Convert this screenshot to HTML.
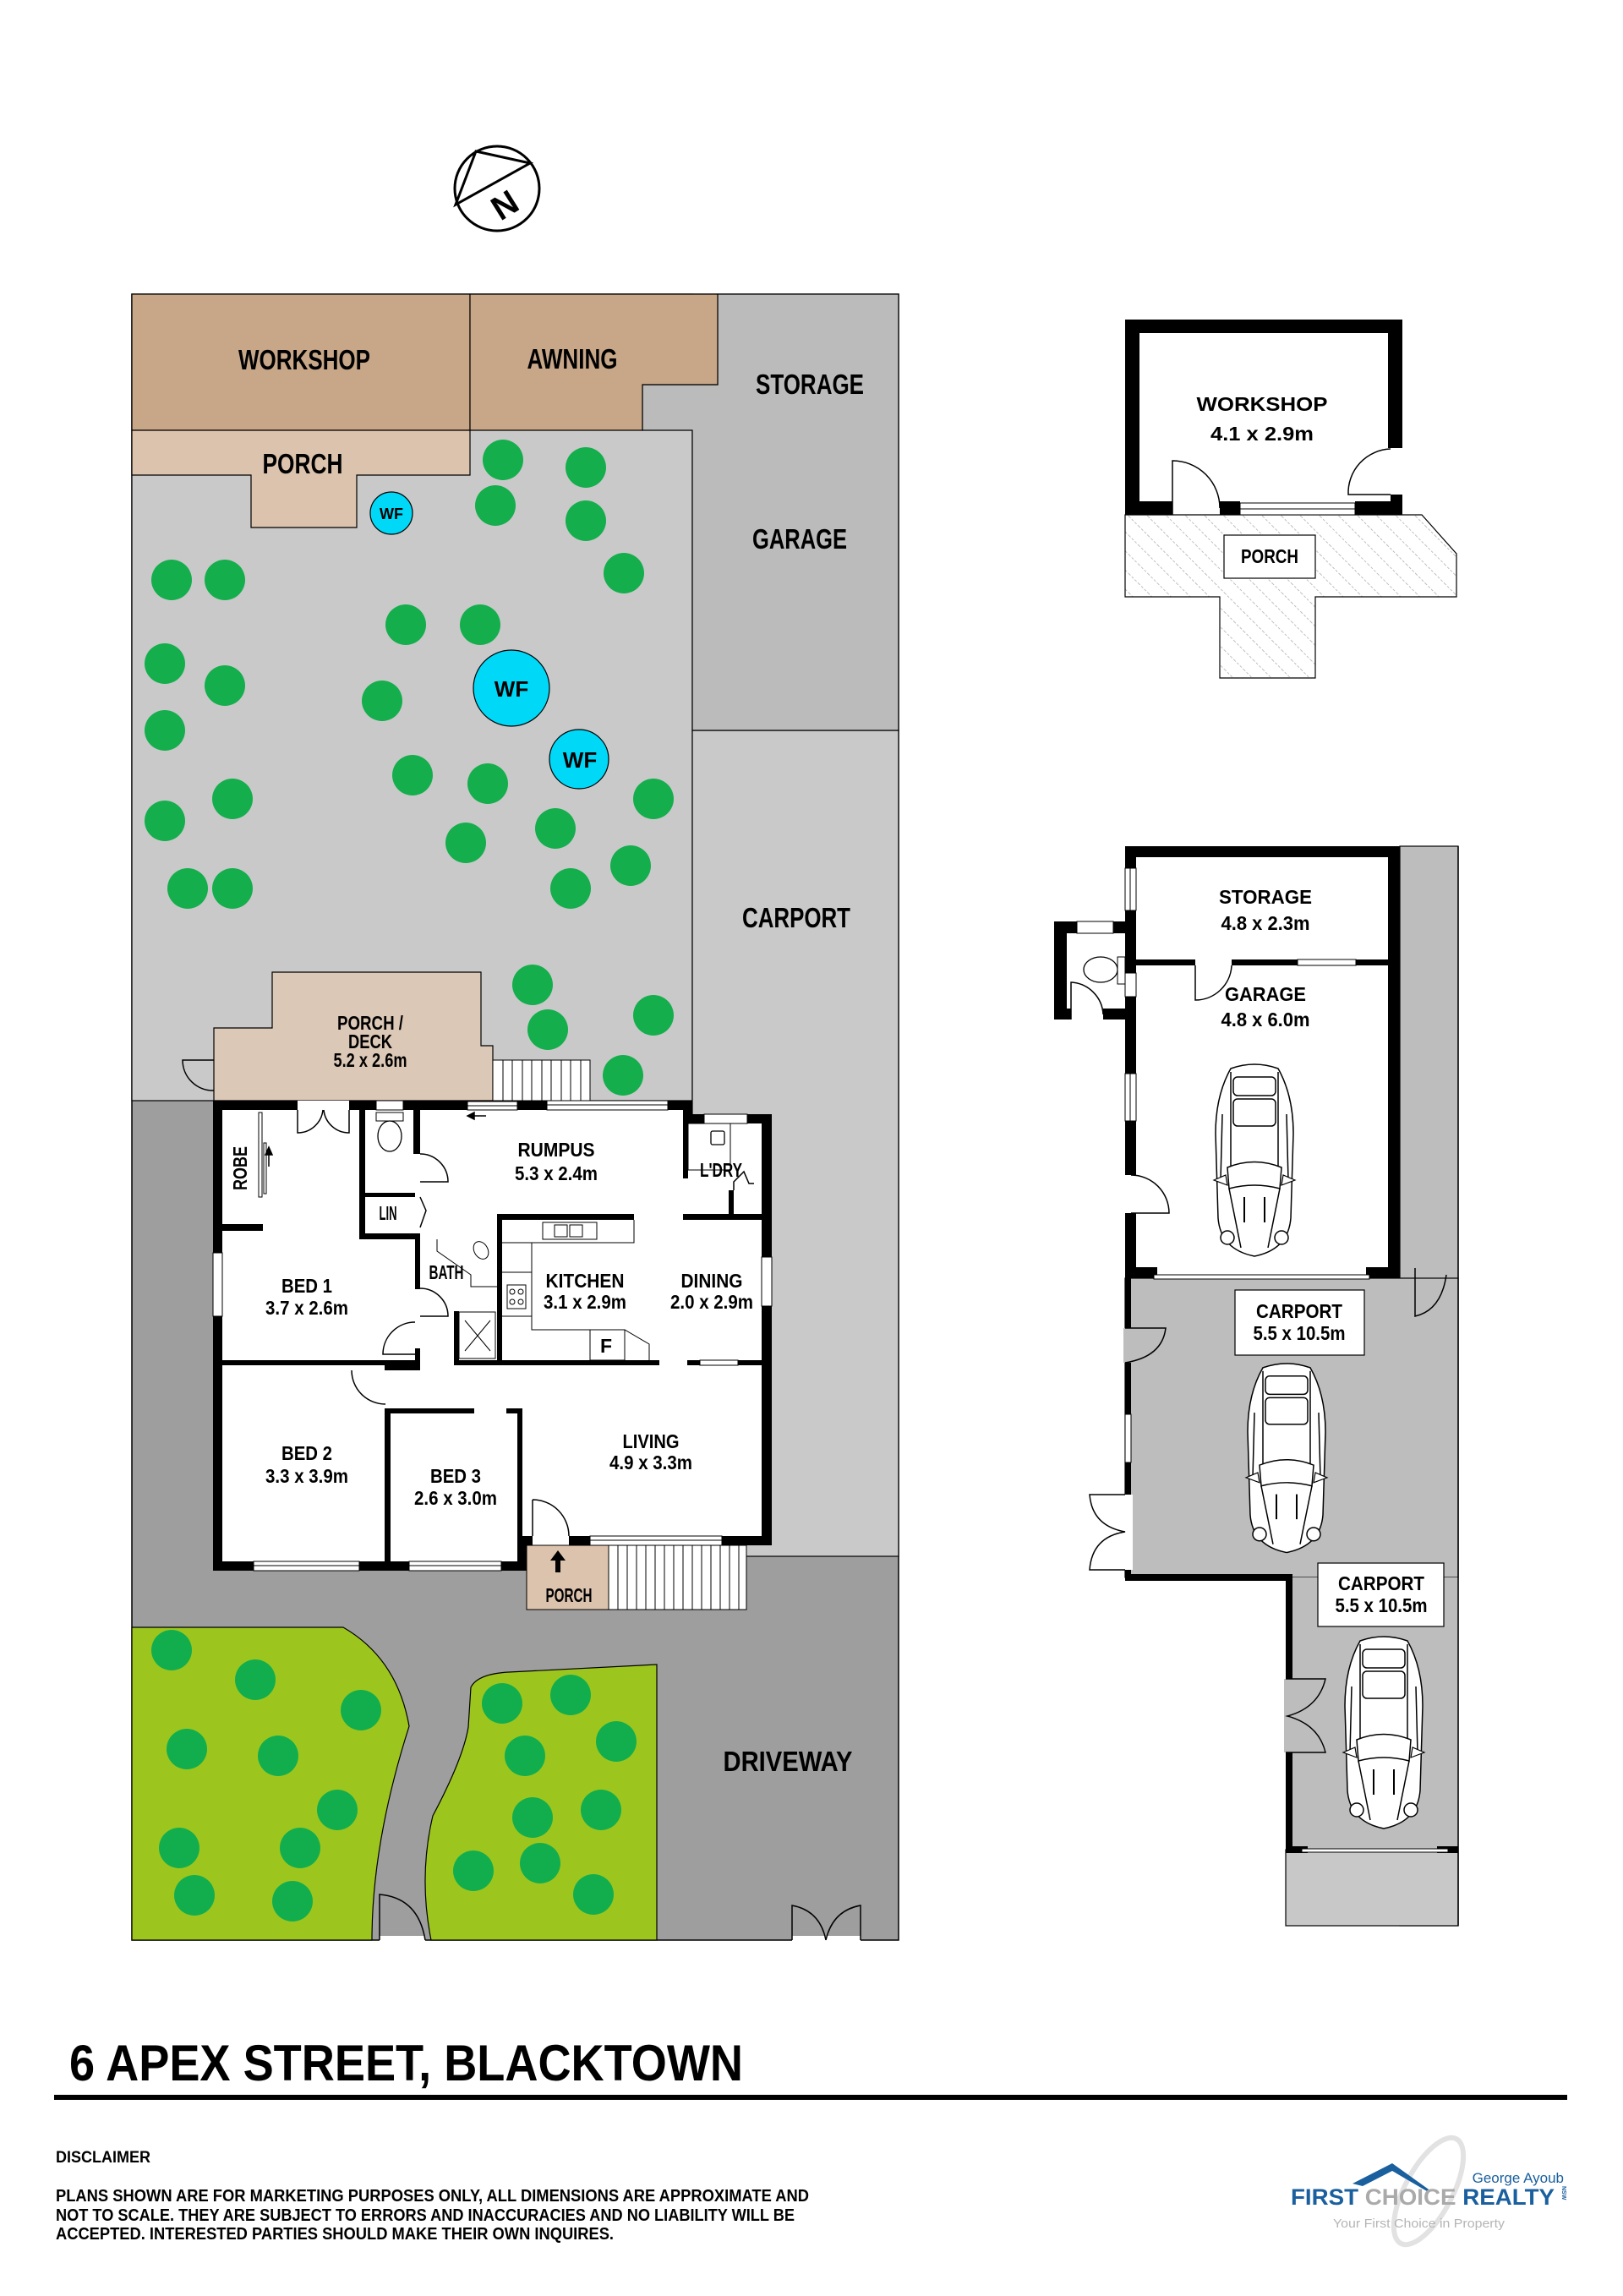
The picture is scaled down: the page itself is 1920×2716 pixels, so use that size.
<!DOCTYPE html>
<html><head><meta charset="utf-8"><style>
html,body{margin:0;padding:0;background:#fff;}
svg{display:block;}
text{font-family:"Liberation Sans Narrow","Liberation Sans",sans-serif;font-weight:bold;fill:#000;}
.t{font-size:23px;text-anchor:middle;}
.b{font-size:33px;text-anchor:middle;}
.ln{fill:none;stroke:#000;stroke-width:1.5;}
.w{fill:#000;}
.win{fill:#fff;stroke:#000;stroke-width:1;}
</style></head><body>
<svg width="1920" height="2716" viewBox="0 0 1920 2716" xmlns="http://www.w3.org/2000/svg">
<defs>
<pattern id="hatch" width="16" height="16" patternUnits="userSpaceOnUse" patternTransform="rotate(-45)">
<rect width="16" height="16" fill="#fff"/>
<line x1="0" y1="0" x2="0" y2="16" stroke="#aaa" stroke-width="1.5" stroke-dasharray="3,2"/>
</pattern>
<g id="car">
<path d="M22,8 Q50,-2 78,8 Q96,40 96,85 L93,185 Q90,222 50,230 Q10,222 7,185 L4,85 Q4,40 22,8 Z" fill="#fff" stroke="#000" stroke-width="1.5"/>
<line x1="22" y1="12" x2="22" y2="125" stroke="#000" stroke-width="1.5"/>
<line x1="78" y1="12" x2="78" y2="125" stroke="#000" stroke-width="1.5"/>
<rect x="25" y="18" width="50" height="22" rx="5" fill="#fff" stroke="#000" stroke-width="1.5"/>
<rect x="25" y="44" width="50" height="32" rx="5" fill="#fff" stroke="#000" stroke-width="1.5"/>
<line x1="12" y1="62" x2="10" y2="140" stroke="#000" stroke-width="1.5"/>
<line x1="88" y1="62" x2="90" y2="140" stroke="#000" stroke-width="1.5"/>
<path d="M18,125 Q50,112 82,125 L80,150 Q50,142 20,150 Z" fill="#fff" stroke="#000" stroke-width="1.5"/>
<path d="M2,140 L16,134 L18,146 Z M98,140 L84,134 L82,146 Z" fill="#fff" stroke="#000" stroke-width="1.2"/>
<line x1="20" y1="150" x2="34" y2="220" stroke="#000" stroke-width="1.5"/>
<line x1="80" y1="150" x2="66" y2="220" stroke="#000" stroke-width="1.5"/>
<line x1="38" y1="160" x2="38" y2="190" stroke="#000" stroke-width="2"/>
<line x1="62" y1="160" x2="62" y2="190" stroke="#000" stroke-width="2"/>
<circle cx="18" cy="208" r="8" fill="#fff" stroke="#000" stroke-width="1.5"/>
<circle cx="82" cy="208" r="8" fill="#fff" stroke="#000" stroke-width="1.5"/>
</g>
</defs>

<!-- North arrow -->
<circle cx="588" cy="223" r="50" fill="none" stroke="#000" stroke-width="3"/>
<polygon points="563,179 627,193 539,242" fill="none" stroke="#000" stroke-width="3"/>
<text x="598" y="256" transform="rotate(-32 598 244)" style="font-family:'Liberation Sans',sans-serif;font-size:40px;text-anchor:middle;">N</text>

<!-- LEFT SITE PLAN -->
<rect x="156" y="348" width="907" height="1947" fill="#9e9e9e" stroke="#000" stroke-width="1.5"/>
<rect x="156" y="348" width="663" height="954" fill="#c9c9c9" stroke="#000" stroke-width="1.2"/>
<rect x="819" y="864" width="244" height="977" fill="#c9c9c9" stroke="#000" stroke-width="1.2"/>
<polygon points="849,348 1063,348 1063,864 819,864 819,509 760,509 760,455 849,455" fill="#bbbbbb" stroke="#000" stroke-width="1.2"/>
<rect x="156" y="348" width="400" height="161" fill="#c8a789" stroke="#000" stroke-width="1.2"/>
<polygon points="556,348 849,348 849,455 760,455 760,509 556,509" fill="#c8a789" stroke="#000" stroke-width="1.2"/>
<polygon points="156,509 556,509 556,562 422,562 422,624 297,624 297,562 156,562" fill="#dcc3ad" stroke="#000" stroke-width="1.2"/>

<text class="b" x="360" y="437" textLength="156" lengthAdjust="spacingAndGlyphs">WORKSHOP</text>
<text class="b" x="677" y="436" textLength="107" lengthAdjust="spacingAndGlyphs">AWNING</text>
<text class="b" x="958" y="466" textLength="128" lengthAdjust="spacingAndGlyphs">STORAGE</text>
<text class="b" x="946" y="649" textLength="112" lengthAdjust="spacingAndGlyphs">GARAGE</text>
<text class="b" x="358" y="560" textLength="95" lengthAdjust="spacingAndGlyphs">PORCH</text>
<text class="b" x="942" y="1097" textLength="128" lengthAdjust="spacingAndGlyphs">CARPORT</text>

<!-- water features -->
<g fill="#00d8f8" stroke="#000" stroke-width="1.2">
<circle cx="463" cy="607" r="25"/><circle cx="605" cy="814" r="45"/><circle cx="685" cy="898" r="35"/>
</g>
<g style="font-family:'Liberation Sans',sans-serif;font-weight:bold;" text-anchor="middle">
<text x="463" y="614" font-size="18">WF</text>
<text x="605" y="824" font-size="26">WF</text>
<text x="686" y="908" font-size="26">WF</text>
</g>

<!-- trees upper -->
<g fill="#14ae4c">
<circle cx="595" cy="544" r="24"/><circle cx="693" cy="553" r="24"/><circle cx="586" cy="598" r="24"/><circle cx="693" cy="616" r="24"/><circle cx="738" cy="678" r="24"/><circle cx="203" cy="686" r="24"/><circle cx="266" cy="686" r="24"/><circle cx="480" cy="739" r="24"/><circle cx="568" cy="739" r="24"/><circle cx="195" cy="785" r="24"/><circle cx="266" cy="811" r="24"/><circle cx="452" cy="829" r="24"/><circle cx="195" cy="864" r="24"/><circle cx="488" cy="917" r="24"/><circle cx="577" cy="927" r="24"/><circle cx="773" cy="945" r="24"/><circle cx="275" cy="945" r="24"/><circle cx="195" cy="971" r="24"/><circle cx="657" cy="980" r="24"/><circle cx="551" cy="997" r="24"/><circle cx="746" cy="1024" r="24"/><circle cx="222" cy="1051" r="24"/><circle cx="275" cy="1051" r="24"/><circle cx="675" cy="1051" r="24"/><circle cx="630" cy="1165" r="24"/><circle cx="648" cy="1218" r="24"/><circle cx="773" cy="1201" r="24"/><circle cx="737" cy="1272" r="24"/>
</g>

<!-- deck -->
<polygon points="322,1150 569,1150 569,1237 583,1237 583,1302 253,1302 253,1216 322,1216" fill="#dcc8b6" stroke="#000" stroke-width="1.2"/>
<path class="ln" d="M253,1254 L216,1254 A36,36 0 0,0 253,1290"/>
<rect x="583" y="1254" width="115" height="48" fill="#fff" stroke="#000" stroke-width="1"/>
<g stroke="#000" stroke-width="1">
<line x1="595" y1="1254" x2="595" y2="1302"/><line x1="606" y1="1254" x2="606" y2="1302"/><line x1="618" y1="1254" x2="618" y2="1302"/><line x1="629" y1="1254" x2="629" y2="1302"/><line x1="641" y1="1254" x2="641" y2="1302"/><line x1="652" y1="1254" x2="652" y2="1302"/><line x1="664" y1="1254" x2="664" y2="1302"/><line x1="675" y1="1254" x2="675" y2="1302"/><line x1="687" y1="1254" x2="687" y2="1302"/>
</g>
<text class="t" x="438" y="1218" font-size="21" textLength="78" lengthAdjust="spacingAndGlyphs">PORCH /</text>
<text class="t" x="438" y="1240" font-size="21" textLength="52" lengthAdjust="spacingAndGlyphs">DECK</text>
<text class="t" x="438" y="1262" font-size="21" textLength="87" lengthAdjust="spacingAndGlyphs">5.2 x 2.6m</text>

<!-- HOUSE -->
<rect x="252" y="1302" width="567" height="556" fill="#fff"/>
<rect x="808" y="1318" width="105" height="510" fill="#fff"/>
<rect x="612" y="1817" width="301" height="11" fill="#fff"/>
<rect class="w" x="252" y="1302" width="567" height="11"/>
<rect class="w" x="808" y="1302" width="11" height="27"/>
<rect class="w" x="808" y="1318" width="105" height="11"/>
<rect class="w" x="901" y="1318" width="12" height="510"/>
<rect class="w" x="252" y="1302" width="11" height="556"/>
<rect class="w" x="252" y="1847" width="368" height="11"/>
<rect class="w" x="612" y="1817" width="301" height="11"/>
<rect class="w" x="612" y="1817" width="18" height="41"/>
<rect x="352" y="1302" width="61" height="11" fill="#fff"/>
<rect class="win" x="445" y="1302" width="32" height="11"/>
<rect class="win" x="553" y="1303" width="59" height="5"/>
<rect class="win" x="553" y="1308" width="59" height="5"/>
<rect class="win" x="647" y="1302" width="143" height="11"/>
<line x1="647" y1="1307" x2="790" y2="1307" stroke="#000" stroke-width="1"/>
<rect class="win" x="833" y="1318" width="51" height="11"/>
<rect class="win" x="901" y="1487" width="12" height="58"/>
<rect class="win" x="252" y="1482" width="11" height="75"/>
<rect class="win" x="300" y="1847" width="125" height="11"/>
<line x1="300" y1="1852" x2="425" y2="1852" stroke="#000"/>
<rect class="win" x="484" y="1847" width="109" height="11"/>
<line x1="484" y1="1852" x2="593" y2="1852" stroke="#000"/>
<rect x="630" y="1817" width="43" height="11" fill="#fff"/>
<rect class="win" x="698" y="1817" width="156" height="11"/>
<line x1="698" y1="1822" x2="854" y2="1822" stroke="#000"/>
<rect class="w" x="425" y="1313" width="7" height="153"/>
<rect class="w" x="425" y="1459" width="72" height="7"/>
<rect class="w" x="425" y="1411" width="66" height="5"/>
<rect class="w" x="489" y="1313" width="8" height="52"/>
<rect class="w" x="491" y="1459" width="6" height="66"/>
<rect class="w" x="491" y="1595" width="6" height="20"/>
<rect class="w" x="263" y="1609" width="234" height="6"/>
<rect class="w" x="455" y="1609" width="42" height="12"/>
<rect class="w" x="263" y="1448" width="48" height="8"/>
<rect class="w" x="537" y="1609" width="243" height="6"/>
<rect class="w" x="537" y="1551" width="6" height="64"/>
<rect class="w" x="588" y="1436" width="6" height="179"/>
<rect class="w" x="588" y="1436" width="162" height="7"/>
<rect class="w" x="808" y="1436" width="93" height="7"/>
<rect class="w" x="808" y="1318" width="6" height="76"/>
<rect class="w" x="862" y="1408" width="6" height="28"/>
<rect class="w" x="813" y="1609" width="88" height="6"/>
<rect class="win" x="828" y="1609" width="45" height="6"/>
<rect class="w" x="455" y="1666" width="106" height="6"/>
<rect class="w" x="599" y="1666" width="19" height="6"/>
<rect class="w" x="455" y="1666" width="7" height="182"/>
<rect class="w" x="612" y="1666" width="6" height="151"/>
<rect x="306" y="1316" width="4" height="100" fill="#fff" stroke="#000" stroke-width="1"/>
<rect x="312" y="1352" width="3" height="60" fill="#fff" stroke="#000" stroke-width="1"/>
<path d="M318,1360 L318,1380 M314,1366 L318,1357 L322,1366 Z" stroke="#000" stroke-width="1.5" fill="#000"/>
<path class="ln" d="M352,1313 L352,1340 A30,30 0 0,0 382,1313 M413,1313 L413,1340 A30,30 0 0,1 383,1313"/>
<path class="ln" d="M491,1564 A38,38 0 0,0 453,1602 L491,1602"/>
<path class="ln" d="M497,1524 A33,33 0 0,1 530,1557 L497,1557"/>
<path class="ln" d="M497,1365 A33,33 0 0,1 530,1398 L497,1398"/>
<path class="ln" d="M416,1621 A40,40 0 0,0 456,1661"/>
<path class="ln" d="M630,1774 A43,43 0 0,1 673,1817 M630,1774 L630,1817"/>
<path class="ln" d="M497,1416 L504,1432 L497,1452"/>
<path class="ln" d="M868,1408 L868,1398 L880,1386 L886,1400 L892,1400"/>
<path d="M553,1320 L575,1320 M553,1320 L561,1316 L561,1324 Z" stroke="#000" stroke-width="1.5" fill="#000"/>
<rect x="445" y="1316" width="32" height="10" fill="#fff" stroke="#000"/>
<ellipse cx="461" cy="1344" rx="14" ry="18" fill="#fff" stroke="#000" stroke-width="1.3"/>
<rect x="814" y="1329" width="50" height="55" fill="none" stroke="#000" stroke-width="1"/>
<rect x="841" y="1338" width="16" height="16" rx="2" fill="#fff" stroke="#000" stroke-width="1.3"/>
<path class="ln" d="M594,1470 L750,1470 L750,1443 M629,1470 L629,1573 L698,1573 L739,1573 L768,1590 L768,1609 M594,1557 L629,1557 M594,1505 L629,1505" style="stroke-width:1"/>
<rect x="642" y="1446" width="64" height="20" fill="#fff" stroke="#000" stroke-width="1"/>
<rect x="656" y="1449" width="15" height="14" fill="none" stroke="#000"/><rect x="674" y="1449" width="15" height="14" fill="none" stroke="#000"/>
<rect x="600" y="1520" width="22" height="28" fill="#fff" stroke="#000"/>
<circle cx="606" cy="1528" r="3" fill="none" stroke="#000"/><circle cx="616" cy="1528" r="3" fill="none" stroke="#000"/><circle cx="606" cy="1540" r="3" fill="none" stroke="#000"/><circle cx="616" cy="1540" r="3" fill="none" stroke="#000"/>
<rect x="698" y="1573" width="41" height="36" fill="none" stroke="#000" stroke-width="1"/>
<text class="t" x="717" y="1600" font-size="17">F</text>
<path class="ln" d="M517,1466 L517,1480 L557,1508 L557,1522 L588,1522" style="stroke-width:1"/>
<ellipse cx="569" cy="1479" rx="8" ry="11" fill="none" stroke="#000" transform="rotate(-30 569 1479)"/>
<rect x="543" y="1552" width="43" height="55" fill="#fff" stroke="#000" stroke-width="1"/>
<path d="M550,1562 L580,1598 M580,1562 L550,1598" stroke="#000" stroke-width="1"/>
<text class="t" x="285" y="1382" transform="rotate(-90 285 1382)" font-size="21" textLength="52" lengthAdjust="spacingAndGlyphs" dy="7">ROBE</text>
<text class="t" x="658" y="1368" textLength="91" lengthAdjust="spacingAndGlyphs">RUMPUS</text>
<text class="t" x="658" y="1396" textLength="98" lengthAdjust="spacingAndGlyphs">5.3 x 2.4m</text>
<text class="t" x="853" y="1392" font-size="19" textLength="50" lengthAdjust="spacingAndGlyphs">L'DRY</text>
<text class="t" x="459" y="1443" font-size="17" textLength="21" lengthAdjust="spacingAndGlyphs">LIN</text>
<text class="t" x="528" y="1513" font-size="18" textLength="41" lengthAdjust="spacingAndGlyphs">BATH</text>
<text class="t" x="363" y="1529" textLength="60" lengthAdjust="spacingAndGlyphs">BED 1</text>
<text class="t" x="363" y="1555" textLength="98" lengthAdjust="spacingAndGlyphs">3.7 x 2.6m</text>
<text class="t" x="692" y="1523" textLength="93" lengthAdjust="spacingAndGlyphs">KITCHEN</text>
<text class="t" x="692" y="1548" textLength="98" lengthAdjust="spacingAndGlyphs">3.1 x 2.9m</text>
<text class="t" x="842" y="1523" textLength="73" lengthAdjust="spacingAndGlyphs">DINING</text>
<text class="t" x="842" y="1548" textLength="98" lengthAdjust="spacingAndGlyphs">2.0 x 2.9m</text>
<text class="t" x="363" y="1727" textLength="60" lengthAdjust="spacingAndGlyphs">BED 2</text>
<text class="t" x="363" y="1754" textLength="98" lengthAdjust="spacingAndGlyphs">3.3 x 3.9m</text>
<text class="t" x="539" y="1754" textLength="60" lengthAdjust="spacingAndGlyphs">BED 3</text>
<text class="t" x="539" y="1780" textLength="98" lengthAdjust="spacingAndGlyphs">2.6 x 3.0m</text>
<text class="t" x="770" y="1713" textLength="67" lengthAdjust="spacingAndGlyphs">LIVING</text>
<text class="t" x="770" y="1738" textLength="98" lengthAdjust="spacingAndGlyphs">4.9 x 3.3m</text>

<rect x="623" y="1828" width="97" height="76" fill="#dcc3ad" stroke="#000" stroke-width="1"/>
<rect x="720" y="1828" width="163" height="76" fill="#fff" stroke="#000" stroke-width="1"/>
<g stroke="#000" stroke-width="1">
<line x1="731" y1="1828" x2="731" y2="1904"/><line x1="742" y1="1828" x2="742" y2="1904"/><line x1="753" y1="1828" x2="753" y2="1904"/><line x1="764" y1="1828" x2="764" y2="1904"/><line x1="775" y1="1828" x2="775" y2="1904"/><line x1="786" y1="1828" x2="786" y2="1904"/><line x1="797" y1="1828" x2="797" y2="1904"/><line x1="808" y1="1828" x2="808" y2="1904"/><line x1="819" y1="1828" x2="819" y2="1904"/><line x1="830" y1="1828" x2="830" y2="1904"/><line x1="841" y1="1828" x2="841" y2="1904"/><line x1="852" y1="1828" x2="852" y2="1904"/><line x1="863" y1="1828" x2="863" y2="1904"/><line x1="874" y1="1828" x2="874" y2="1904"/>
</g>
<path d="M657,1860 L657,1846 L651,1846 L660,1834 L669,1846 L663,1846 L663,1860 Z" fill="#000"/>
<text class="t" x="673" y="1895" font-size="19" textLength="55" lengthAdjust="spacingAndGlyphs">PORCH</text>

<path d="M156,1925 L406,1925 Q470,1962 484,2042 Q440,2180 440,2295 L156,2295 Z" fill="#9cc61e" stroke="#000" stroke-width="1.2"/>
<path d="M557,1996 Q565,1980 602,1978 L777,1969 L777,2295 L510,2295 Q495,2220 512,2148 Q548,2080 554,2043 Z" fill="#9cc61e" stroke="#000" stroke-width="1.2"/>
<g fill="#12ae4e">
<circle cx="203" cy="1952" r="24"/><circle cx="302" cy="1987" r="24"/><circle cx="427" cy="2023" r="24"/><circle cx="221" cy="2069" r="24"/><circle cx="329" cy="2077" r="24"/><circle cx="399" cy="2141" r="24"/><circle cx="212" cy="2186" r="24"/><circle cx="355" cy="2186" r="24"/><circle cx="230" cy="2242" r="24"/><circle cx="346" cy="2249" r="24"/>
<circle cx="594" cy="2015" r="24"/><circle cx="675" cy="2005" r="24"/><circle cx="729" cy="2060" r="24"/><circle cx="621" cy="2077" r="24"/><circle cx="630" cy="2150" r="24"/><circle cx="711" cy="2141" r="24"/><circle cx="560" cy="2213" r="24"/><circle cx="639" cy="2204" r="24"/><circle cx="702" cy="2241" r="24"/>
</g>
<rect x="449" y="2290" width="54" height="10" fill="#fff"/>
<path class="ln" d="M449,2295 L449,2241 Q495,2245 503,2295"/>
<rect x="937" y="2290" width="81" height="10" fill="#fff"/>
<path class="ln" d="M937,2295 L937,2254 Q970,2260 977,2295 M1018,2295 L1018,2254 Q985,2260 977,2295"/>
<text class="b" x="932" y="2095" textLength="153" lengthAdjust="spacingAndGlyphs">DRIVEWAY</text>

<!-- RIGHT: WORKSHOP -->
<polygon points="1331,609 1682,609 1723,655 1723,706 1556,706 1556,802 1443,802 1443,706 1331,706" fill="url(#hatch)" stroke="#000" stroke-width="1.2"/>
<rect x="1448" y="633" width="108" height="51" fill="#fff" stroke="#000" stroke-width="1.2"/>
<text class="t" x="1502" y="666" font-size="21" textLength="68" lengthAdjust="spacingAndGlyphs">PORCH</text>
<rect class="w" x="1331" y="378" width="328" height="16"/>
<rect class="w" x="1331" y="378" width="17" height="231"/>
<rect class="w" x="1642" y="378" width="17" height="152"/>
<rect class="w" x="1645" y="585" width="14" height="24"/>
<rect class="w" x="1331" y="593" width="56" height="16"/>
<rect class="w" x="1443" y="593" width="24" height="16"/>
<rect class="w" x="1603" y="593" width="56" height="16"/>
<rect class="win" x="1467" y="595" width="136" height="7"/>
<rect class="win" x="1467" y="602" width="136" height="7"/>
<path class="ln" d="M1387,609 L1387,545 A56,56 0 0,1 1443,601"/>
<path class="ln" d="M1645,585 L1595,585 A52,52 0 0,1 1645,531"/>
<text class="t" x="1493" y="486" font-size="27" textLength="155" lengthAdjust="spacingAndGlyphs">WORKSHOP</text>
<text class="t" x="1493" y="521" font-size="27" textLength="122" lengthAdjust="spacingAndGlyphs">4.1 x 2.9m</text>

<!-- RIGHT: GARAGE / CARPORTS -->
<rect x="1656" y="1001" width="69" height="1277" fill="#bdbdbd" stroke="#000" stroke-width="1.2"/>
<rect x="1331" y="1512" width="394" height="354" fill="#bdbdbd" stroke="#000" stroke-width="1.2"/>
<rect x="1529" y="1866" width="196" height="322" fill="#bdbdbd"/>
<rect x="1521" y="2188" width="204" height="90" fill="#c8c8c8" stroke="#000" stroke-width="1.2"/>
<line x1="1725" y1="1001" x2="1725" y2="2278" stroke="#000" stroke-width="1.5"/>
<rect class="w" x="1331" y="1001" width="325" height="511"/>
<rect x="1344" y="1014" width="298" height="485" fill="#fff"/>
<rect x="1369" y="1499" width="247" height="13" fill="#fff"/>
<rect class="win" x="1365" y="1508" width="255" height="5"/>
<rect class="w" x="1344" y="1135" width="70" height="7"/>
<rect class="w" x="1457" y="1135" width="185" height="7"/>
<rect class="win" x="1535" y="1135" width="69" height="7"/>
<path class="ln" d="M1414,1142 L1414,1183 A43,43 0 0,0 1457,1142"/>
<rect class="win" x="1331" y="1027" width="13" height="50"/>
<line x1="1337" y1="1027" x2="1337" y2="1077" stroke="#000"/>
<rect class="win" x="1331" y="1270" width="13" height="56"/>
<line x1="1337" y1="1270" x2="1337" y2="1326" stroke="#000"/>
<rect x="1331" y="1390" width="13" height="45" fill="#fff"/>
<path class="ln" d="M1338,1390 A45,45 0 0,1 1383,1435 L1338,1435"/>
<rect class="w" x="1247" y="1090" width="84" height="116"/>
<rect x="1262" y="1104" width="69" height="89" fill="#fff"/>
<rect x="1267" y="1190" width="38" height="18" fill="#fff"/>
<rect class="win" x="1274" y="1090" width="43" height="14"/>
<rect class="win" x="1331" y="1151" width="13" height="28"/>
<ellipse cx="1302" cy="1147" rx="20" ry="15" fill="#fff" stroke="#000" stroke-width="1.3"/>
<rect x="1322" y="1132" width="9" height="32" fill="#fff" stroke="#000"/>
<path class="ln" d="M1267,1206 L1267,1162 A40,40 0 0,1 1305,1200"/>
<text class="t" x="1497" y="1069" font-size="26" textLength="110" lengthAdjust="spacingAndGlyphs">STORAGE</text>
<text class="t" x="1497" y="1100" font-size="26" textLength="105" lengthAdjust="spacingAndGlyphs">4.8 x 2.3m</text>
<text class="t" x="1497" y="1184" font-size="26" textLength="96" lengthAdjust="spacingAndGlyphs">GARAGE</text>
<text class="t" x="1497" y="1214" font-size="26" textLength="105" lengthAdjust="spacingAndGlyphs">4.8 x 6.0m</text>
<use href="#car" transform="translate(1434,1256)"/>
<rect class="w" x="1331" y="1512" width="7" height="358"/>
<rect x="1329" y="1571" width="11" height="41" fill="#bdbdbd"/>
<path class="ln" d="M1331,1571 L1379,1571 Q1375,1605 1331,1612"/>
<rect class="win" x="1331" y="1673" width="7" height="57"/>
<rect x="1329" y="1768" width="11" height="89" fill="#fff"/>
<path class="ln" d="M1331,1768 L1289,1768 Q1292,1805 1331,1812 Q1292,1818 1289,1857 L1331,1857"/>
<rect class="w" x="1331" y="1862" width="198" height="8"/>
<rect class="w" x="1521" y="1862" width="8" height="326"/>
<rect x="1519" y="1986" width="11" height="87" fill="#bdbdbd"/>
<path class="ln" d="M1521,1986 L1568,1986 Q1560,2020 1523,2030 Q1560,2040 1568,2073 L1521,2073"/>
<rect class="w" x="1521" y="2184" width="26" height="8"/>
<rect class="w" x="1700" y="2184" width="25" height="8"/>
<rect class="win" x="1540" y="2187" width="173" height="4"/>
<path class="ln" d="M1674,1500 L1674,1557 Q1705,1550 1711,1508"/>
<rect x="1461" y="1526" width="153" height="77" fill="#fff" stroke="#000" stroke-width="1.2"/>
<text class="t" x="1537" y="1559" font-size="24" textLength="102" lengthAdjust="spacingAndGlyphs">CARPORT</text>
<text class="t" x="1537" y="1585" font-size="24" textLength="109" lengthAdjust="spacingAndGlyphs">5.5 x 10.5m</text>
<use href="#car" transform="translate(1472,1610) scale(1,0.985)"/>
<rect x="1559" y="1849" width="149" height="75" fill="#fff" stroke="#000" stroke-width="1.2"/>
<text class="t" x="1634" y="1881" font-size="24" textLength="102" lengthAdjust="spacingAndGlyphs">CARPORT</text>
<text class="t" x="1634" y="1907" font-size="24" textLength="109" lengthAdjust="spacingAndGlyphs">5.5 x 10.5m</text>
<use href="#car" transform="translate(1587,1933)"/>

<!-- TITLE -->
<text x="82" y="2461" style="font-size:60px;font-weight:bold;font-family:'Liberation Sans Narrow','Liberation Sans',sans-serif;" textLength="797" lengthAdjust="spacingAndGlyphs">6 APEX STREET, BLACKTOWN</text>
<rect x="64" y="2478" width="1790" height="6" fill="#000"/>
<text x="66" y="2558" style="font-size:19px" textLength="112" lengthAdjust="spacingAndGlyphs">DISCLAIMER</text>
<text x="66" y="2604" style="font-size:20px" textLength="891" lengthAdjust="spacingAndGlyphs">PLANS SHOWN ARE FOR MARKETING PURPOSES ONLY, ALL DIMENSIONS ARE APPROXIMATE AND</text>
<text x="66" y="2627" style="font-size:20px" textLength="874" lengthAdjust="spacingAndGlyphs">NOT TO SCALE. THEY ARE SUBJECT TO ERRORS AND INACCURACIES AND NO LIABILITY WILL BE</text>
<text x="66" y="2649" style="font-size:20px" textLength="660" lengthAdjust="spacingAndGlyphs">ACCEPTED. INTERESTED PARTIES SHOULD MAKE THEIR OWN INQUIRES.</text>

<!-- LOGO -->
<ellipse cx="1690" cy="2592" rx="28" ry="70" transform="rotate(28 1690 2592)" fill="none" stroke="#e2e2e2" stroke-width="6"/>
<polygon points="1600,2583 1647,2559 1693,2592 1688,2592 1647,2568 1612,2586" fill="#1a5f9e"/>
<text x="1850" y="2582" style="font-family:'Liberation Sans',sans-serif;font-weight:normal;font-size:17px;fill:#1a5f9e;text-anchor:end;">George Ayoub</text>
<text x="1527" y="2608" style="font-family:'Liberation Sans',sans-serif;font-size:27px;" textLength="312" lengthAdjust="spacingAndGlyphs"><tspan style="fill:#1a5f9e">FIRST </tspan><tspan style="fill:#aaaaaa">CHOICE </tspan><tspan style="fill:#1a5f9e">REALTY</tspan></text>
<text x="1577" y="2635" style="font-family:'Liberation Sans',sans-serif;font-weight:normal;font-size:15px;fill:#b5b5b5;" textLength="203" lengthAdjust="spacingAndGlyphs">Your First Choice in Property</text>
<text x="1848" y="2586" transform="rotate(90 1848 2586)" style="font-family:'Liberation Sans',sans-serif;font-size:7px;fill:#1a5f9e;">NSW</text>
</svg>
</body></html>
